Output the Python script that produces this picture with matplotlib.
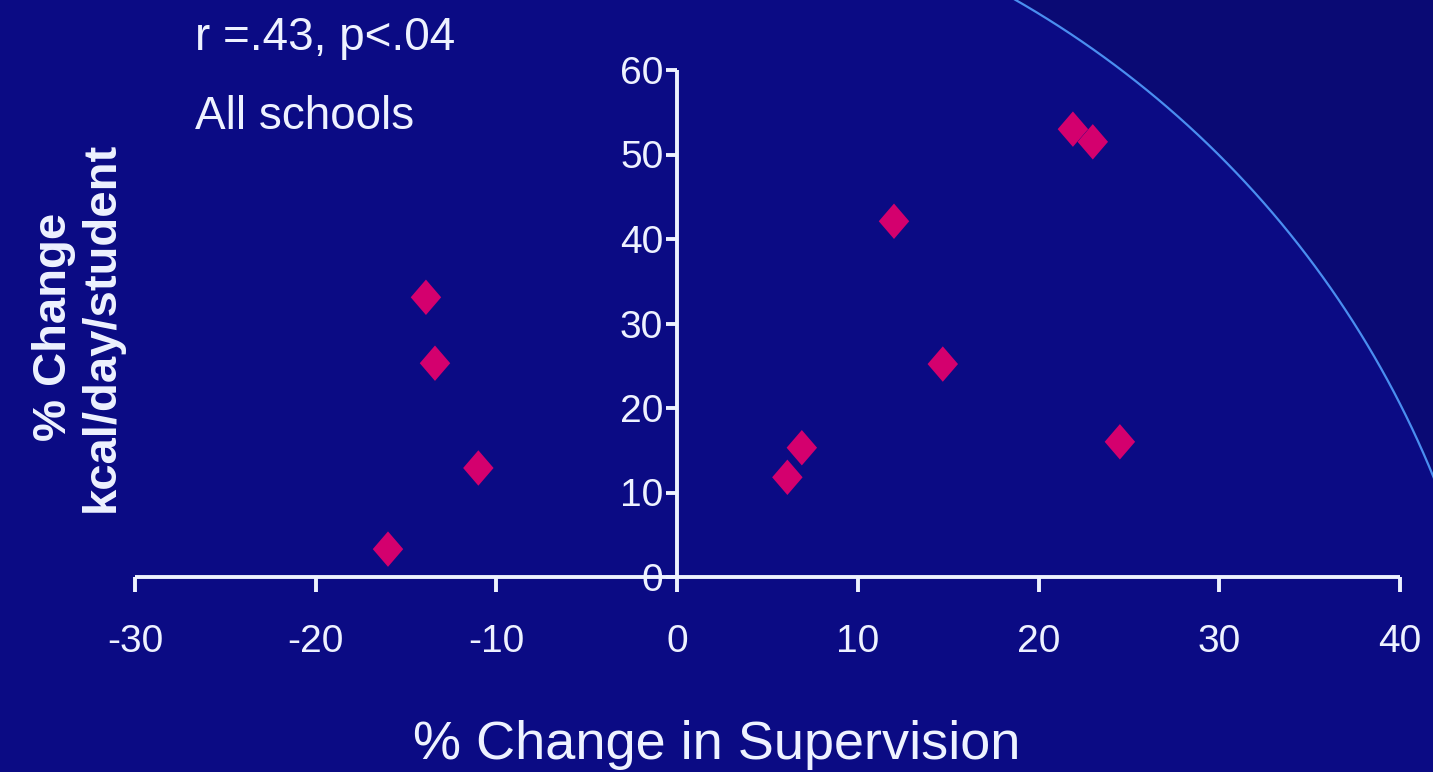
import matplotlib
matplotlib.use("Agg")
import numpy as np
import matplotlib.pyplot as plt
from matplotlib.patches import Polygon
from matplotlib.lines import Line2D

# Data
supervision_change = [-16.0, -13.9, -13.4, -11.0, 6.1, 6.9, 12.0, 14.7, 21.9, 23.0, 24.5]
kcal_change = [3.3, 33.1, 25.3, 12.9, 11.8, 15.3, 42.1, 25.2, 53.0, 51.5, 16.0]
x_ticks = [-30, -20, -10, 0, 10, 20, 30, 40]
y_ticks = [0, 10, 20, 30, 40, 50, 60]

BG = "#0b0b84"
BG_OUT = "#0a0a74"
FG = "#eef2ff"
PT = "#d4006e"
ARC = "#4a8ef0"

plt.rcParams['font.family'] = ['Liberation Sans', 'DejaVu Sans']

W, H = 1433, 772
fig = plt.figure(figsize=(W / 100, H / 100), dpi=100)
fig.patch.set_facecolor(BG)

# decorative slide arc (only the right-hand part is visible on the slide)
cx, cy, r = 531, 846, 975
a0 = np.arctan2(cy - 0, 1008 - cx)
a1 = np.arctan2(cy - 500, 1433 - cx)
ang = np.linspace(a0, a1, 200)
ax_px = cx + r * np.cos(ang)
ay_px = cy - r * np.sin(ang)
fx = ax_px / W
fy = 1 - ay_px / H
outside = np.column_stack([np.r_[fx, 1.0, 1.0], np.r_[fy, 0.0, 1.0]])
fig.add_artist(Polygon(outside, closed=True, transform=fig.transFigure,
                       facecolor=BG_OUT, edgecolor='none', zorder=0))
fig.add_artist(Line2D(fx, fy, transform=fig.transFigure, color=ARC,
                      linewidth=1.6, zorder=0.5))

ax = fig.add_axes([135 / W, (H - 577) / H, (1400 - 135) / W, (577 - 70) / H])
ax.set_facecolor("none")
ax.set_xlim(-30, 40)
ax.set_ylim(0, 60)

diamond = [(0, 1), (0.86, 0), (0, -1), (-0.86, 0), (0, 1)]
ax.scatter(supervision_change, kcal_change, marker=diamond, s=650, color=PT,
           edgecolors='none', zorder=3, clip_on=False)

for s in ['top', 'right']:
    ax.spines[s].set_visible(False)
ax.spines['left'].set_position(('data', 0))
ax.spines['bottom'].set_position(('data', 0))
for s in ['left', 'bottom']:
    ax.spines[s].set_color(FG)
    ax.spines[s].set_linewidth(2.8)
    ax.spines[s].set_capstyle('butt')

ax.set_xticks(x_ticks)
ax.set_yticks(y_ticks)
ax.set_xticklabels([str(v) for v in x_ticks])
ax.set_yticklabels([str(v) for v in y_ticks])
ax.tick_params(axis='x', direction='out', length=11, width=2.8, color=FG,
               labelcolor=FG, labelsize=28, pad=23)
ax.tick_params(axis='y', direction='out', length=8, width=2.8, color=FG,
               labelcolor=FG, labelsize=28, pad=2)

fig.text(717 / W, 1 - 745 / H, "% Change in Supervision", color=FG,
         fontsize=39, ha='center', va='center')
fig.text(78 / W, 1 - 327 / H, "% Change\nkcal/day/student", color=FG,
         fontsize=34, fontweight='bold', rotation=90, ha='center',
         va='center', ma='center', linespacing=1.1)
fig.text(195 / W, 1 - 38 / H, "r =.43, p<.04", color=FG, fontsize=33,
         ha='left', va='center')
fig.text(195 / W, 1 - 117 / H, "All schools", color=FG, fontsize=33,
         ha='left', va='center')

fig.savefig("out.png", dpi=100, facecolor=fig.get_facecolor())
